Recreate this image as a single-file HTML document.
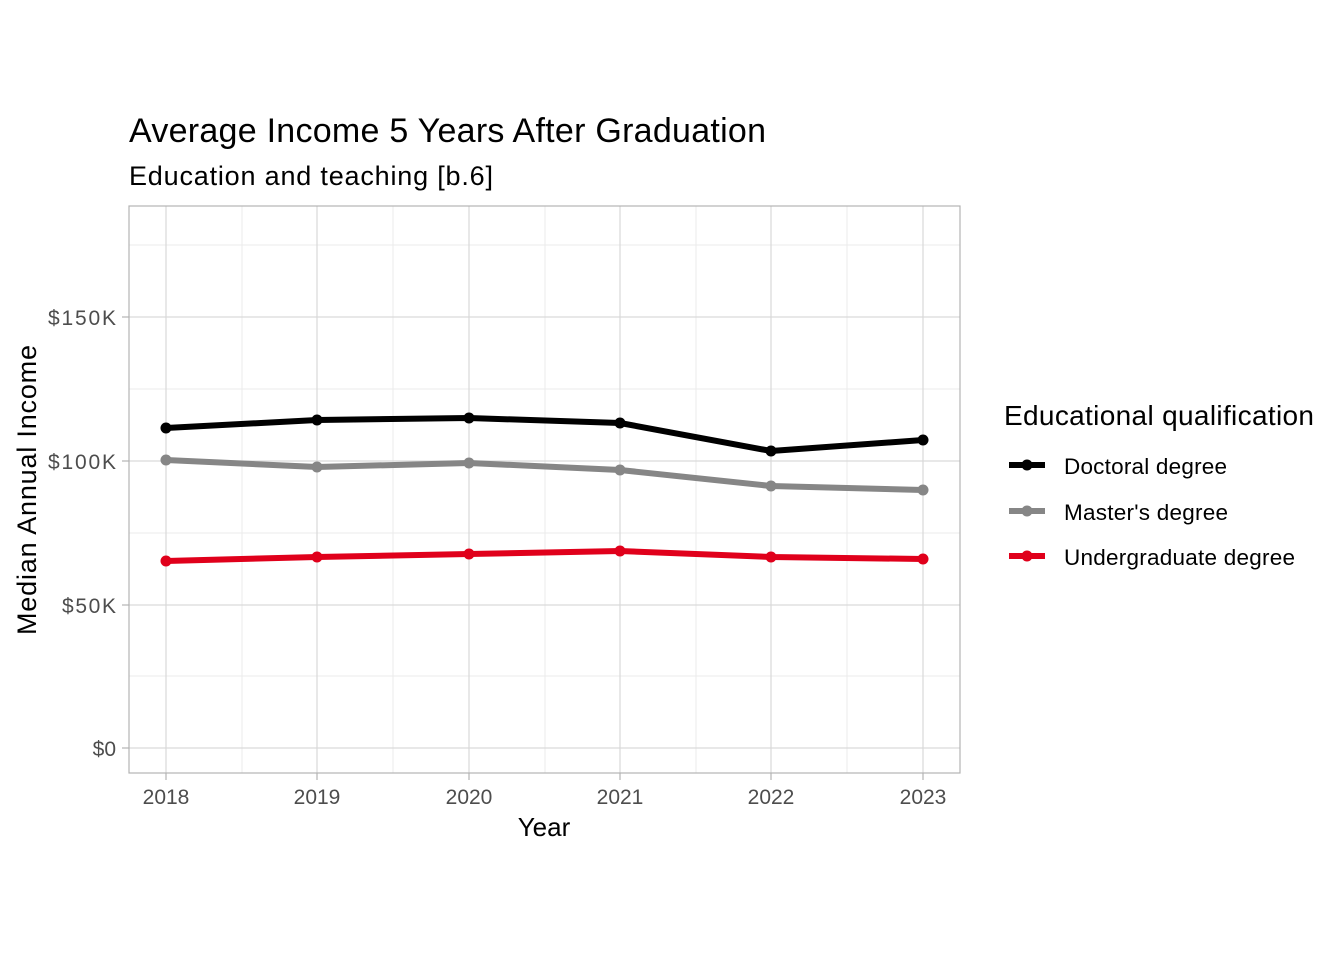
<!DOCTYPE html>
<html><head><style>body{margin:0;background:#fff}svg{display:block}text{font-family:"Liberation Sans",sans-serif}</style></head>
<body>
<svg width="1344" height="960" viewBox="0 0 1344 960">
<rect width="1344" height="960" fill="#fff"/>
<g stroke="#ebebeb" stroke-width="1">
<line x1="129" x2="960" y1="676" y2="676"/><line x1="129" x2="960" y1="533" y2="533"/><line x1="129" x2="960" y1="389" y2="389"/><line x1="129" x2="960" y1="245" y2="245"/>
<line x1="242" x2="242" y1="206" y2="773"/><line x1="393" x2="393" y1="206" y2="773"/><line x1="545" x2="545" y1="206" y2="773"/><line x1="696" x2="696" y1="206" y2="773"/><line x1="847" x2="847" y1="206" y2="773"/>
</g>
<g stroke="#d9d9d9" stroke-width="1.2">
<line x1="129" x2="960" y1="748" y2="748"/><line x1="129" x2="960" y1="605" y2="605"/><line x1="129" x2="960" y1="461" y2="461"/><line x1="129" x2="960" y1="317" y2="317"/>
<line x1="166" x2="166" y1="206" y2="773"/><line x1="317" x2="317" y1="206" y2="773"/><line x1="469" x2="469" y1="206" y2="773"/><line x1="620" x2="620" y1="206" y2="773"/><line x1="771" x2="771" y1="206" y2="773"/><line x1="923" x2="923" y1="206" y2="773"/>
</g>
<rect x="129" y="206" width="831" height="567" fill="none" stroke="#b3b3b3" stroke-width="1.2"/>
<g stroke="#b3b3b3" stroke-width="1.2">
<line x1="122" x2="129" y1="748" y2="748"/><line x1="122" x2="129" y1="605" y2="605"/><line x1="122" x2="129" y1="461" y2="461"/><line x1="122" x2="129" y1="317" y2="317"/>
<line x1="166" x2="166" y1="773" y2="780"/><line x1="317" x2="317" y1="773" y2="780"/><line x1="469" x2="469" y1="773" y2="780"/><line x1="620" x2="620" y1="773" y2="780"/><line x1="771" x2="771" y1="773" y2="780"/><line x1="923" x2="923" y1="773" y2="780"/>
</g>
<g fill="none" stroke-width="6" stroke-linejoin="round">
<polyline stroke="#000" points="166,428 317,420 469,418 620,423 771,451 923,440"/>
<polyline stroke="#868686" points="166,460 317,467 469,463 620,470 771,486 923,490"/>
<polyline stroke="#e0001b" points="166,561 317,557 469,554 620,551 771,557 923,559"/>
</g>
<g fill="#000"><circle cx="166" cy="428" r="5.5"/><circle cx="317" cy="420" r="5.5"/><circle cx="469" cy="418" r="5.5"/><circle cx="620" cy="423" r="5.5"/><circle cx="771" cy="451" r="5.5"/><circle cx="923" cy="440" r="5.5"/></g>
<g fill="#868686"><circle cx="166" cy="460" r="5.5"/><circle cx="317" cy="467" r="5.5"/><circle cx="469" cy="463" r="5.5"/><circle cx="620" cy="470" r="5.5"/><circle cx="771" cy="486" r="5.5"/><circle cx="923" cy="490" r="5.5"/></g>
<g fill="#e0001b"><circle cx="166" cy="561" r="5.5"/><circle cx="317" cy="557" r="5.5"/><circle cx="469" cy="554" r="5.5"/><circle cx="620" cy="551" r="5.5"/><circle cx="771" cy="557" r="5.5"/><circle cx="923" cy="559" r="5.5"/></g>
<g font-size="21" fill="#4d4d4d" text-anchor="end">
<text x="116" y="756">$0</text><text x="116" y="613" textLength="54">$50K</text><text x="116" y="469" textLength="68">$100K</text><text x="116" y="325" textLength="68">$150K</text>
</g>
<g font-size="21" fill="#4d4d4d" text-anchor="middle">
<text x="166" y="804">2018</text><text x="317" y="804">2019</text><text x="469" y="804">2020</text><text x="620" y="804">2021</text><text x="771" y="804">2022</text><text x="923" y="804">2023</text>
</g>
<text x="544" y="836" font-size="26" text-anchor="middle">Year</text>
<text transform="translate(36,490) rotate(-90)" font-size="27" text-anchor="middle" textLength="290">Median Annual Income</text>
<text x="129" y="142" font-size="34" textLength="637">Average Income 5 Years After Graduation</text>
<text x="129" y="185" font-size="27" textLength="364">Education and teaching [b.6]</text>
<text x="1004" y="425" font-size="28" textLength="310">Educational qualification</text>
<g stroke-width="6"><line x1="1009" x2="1045" y1="465" y2="465" stroke="#000"/><line x1="1009" x2="1045" y1="511" y2="511" stroke="#868686"/><line x1="1009" x2="1045" y1="556" y2="556" stroke="#e0001b"/></g>
<circle cx="1027" cy="465" r="5.5" fill="#000"/><circle cx="1027" cy="511" r="5.5" fill="#868686"/><circle cx="1027" cy="556" r="5.5" fill="#e0001b"/>
<g font-size="22.5"><text x="1064" y="474" textLength="163">Doctoral degree</text><text x="1064" y="520" textLength="164">Master's degree</text><text x="1064" y="565" textLength="231">Undergraduate degree</text></g>
</svg>
</body></html>
